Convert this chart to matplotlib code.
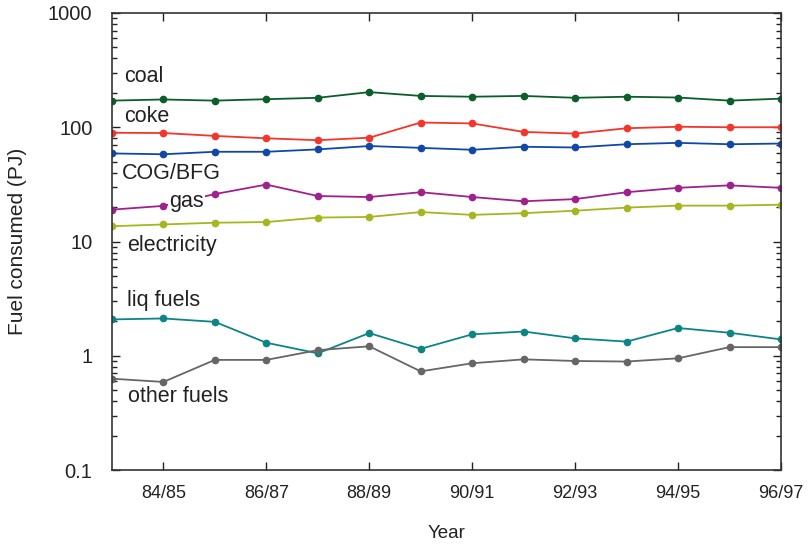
import matplotlib
matplotlib.use('Agg')
import matplotlib.pyplot as plt
import numpy as np
from matplotlib.ticker import LogLocator, NullFormatter

plt.rcParams['font.family'] = ['Liberation Sans', 'DejaVu Sans']

# fiscal years 83/84 .. 96/97
years = ['83/84', '84/85', '85/86', '86/87', '87/88', '88/89', '89/90',
         '90/91', '91/92', '92/93', '93/94', '94/95', '95/96', '96/97']
tick_labels = ['84/85', '86/87', '88/89', '90/91', '92/93', '94/95', '96/97']

coal = [171, 175, 171, 176, 181, 203, 188, 185, 188, 181, 185, 182, 171, 178]
coke = [89.5, 89, 84, 80, 77, 81, 110, 108, 91, 88, 98, 101, 100, 100]
cog_bfg = [59, 58, 61, 61, 64, 68.5, 66, 63.5, 67.5, 66.5, 71, 73, 71, 72]
gas = [19, 20.5, 26, 31.5, 25, 24.5, 27, 24.5, 22.5, 23.5, 27, 29.5, 31, 29.5]
electricity = [13.6, 14.1, 14.6, 14.8, 16.2, 16.4, 18.1, 17.1, 17.7, 18.6, 19.8, 20.6, 20.6, 21.0]
liq_fuels = [2.08, 2.12, 1.98, 1.30, 1.05, 1.58, 1.15, 1.54, 1.63, 1.42, 1.33, 1.75, 1.59, 1.39]
other_fuels = [0.63, 0.59, 0.92, 0.92, 1.12, 1.21, 0.73, 0.86, 0.93, 0.90, 0.89, 0.95, 1.19, 1.19]

series = [
    ('coal', coal, '#0b5e2a', (0.24, 277)),
    ('coke', coke, '#f5352a', (0.24, 123)),
    ('COG/BFG', cog_bfg, '#1148a8', (0.2, 39)),
    ('gas', gas, '#a0208e', (1.12, 22.5)),
    ('electricity', electricity, '#a6b61e', (0.3, 9.2)),
    ('liq fuels', liq_fuels, '#0d8585', (0.3, 3.03)),
    ('other fuels', other_fuels, '#666666', (0.32, 0.44)),
]

fig = plt.figure(figsize=(8.11, 5.48), dpi=100)
ax = fig.add_axes([0.138, 0.1423, 0.825, 0.834])

x = np.arange(len(years))
for name, vals, col, pos in series:
    ax.plot(x, vals, color=col, lw=1.3, marker='o', ms=4.5, zorder=2)
    if name == 'gas':
        # label sits over the line, white box hides the segment
        ax.text(pos[0], pos[1], name, fontsize=15.5, color='#222222', ha='left', va='center',
                zorder=3, bbox=dict(facecolor='white', edgecolor='none', pad=1.0))
    else:
        ax.text(pos[0], pos[1], name, fontsize=15.5, color='#222222', ha='left', va='center', zorder=3)

ax.set_yscale('log')
ax.set_ylim(0.1, 1000)
ax.set_xlim(0, len(years) - 1)
ax.set_yticks([0.1, 1, 10, 100, 1000])
ax.set_yticklabels(['0.1', '1', '10', '100', '1000'])
ax.yaxis.set_minor_locator(LogLocator(base=10, subs=np.arange(2, 10)))
ax.yaxis.set_minor_formatter(NullFormatter())
ax.set_xticks([years.index(t) for t in tick_labels])
ax.set_xticklabels(tick_labels)

ax.tick_params(which='both', direction='in', top=True, right=True,
               colors='#222222', width=1)
ax.tick_params(which='major', length=6)
ax.tick_params(which='minor', length=3.5)
ax.tick_params(axis='y', labelsize=14.5, pad=14)
ax.tick_params(axis='x', labelsize=13, pad=11)
for s in ax.spines.values():
    s.set_color('#333333')
    s.set_linewidth(1.2)

ax.set_xlabel('Year', fontsize=13.5, color='#222222', labelpad=16)
ax.set_ylabel('Fuel consumed (PJ)', fontsize=15, color='#222222')
ax.yaxis.set_label_coords(-0.127, 0.5)

fig.savefig('out.png', dpi=100)
